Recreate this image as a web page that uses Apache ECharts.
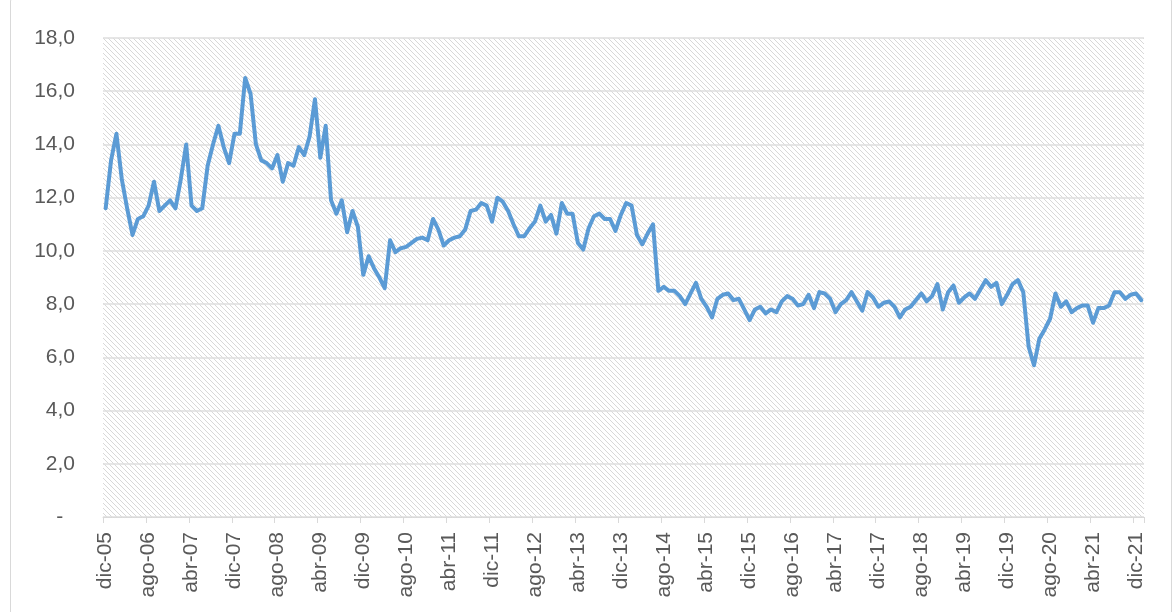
<!DOCTYPE html>
<html>
<head>
<meta charset="utf-8">
<script src="https://cdn.jsdelivr.net/npm/echarts@6/dist/echarts.min.js"></script>
<style>
html,body{margin:0;padding:0;background:#fff;}
#chart{width:1173px;height:612px;}
</style>
</head>
<body>
<div id="chart"></div>
<script>
// Month names (Spanish abbreviations) and start of the series
var monthNames = ['ene','feb','mar','abr','may','jun','jul','ago','sep','oct','nov','dic'];
var startMonth = 11; // dic
var startYear = 2005;

// Monthly values, dic-05 .. ene-22
var values = [
  11.6, 13.4, 14.4, 12.7, 11.6, 10.6, 11.2, 11.3, 11.7, 12.6,
  11.5, 11.7, 11.9, 11.6, 12.7, 14.0, 11.7, 11.5, 11.6, 13.2,
  14.0, 14.7, 13.9, 13.3, 14.4, 14.4, 16.5, 15.9, 14.0, 13.4,
  13.3, 13.1, 13.6, 12.6, 13.3, 13.2, 13.9, 13.6, 14.3, 15.7,
  13.5, 14.7, 11.9, 11.4, 11.9, 10.7, 11.5, 10.9, 9.1, 9.8,
  9.35, 9.0, 8.6, 10.4, 9.95, 10.1, 10.15, 10.3, 10.45, 10.5,
  10.4, 11.2, 10.8, 10.2, 10.4, 10.5, 10.55, 10.8, 11.5, 11.55,
  11.8, 11.7, 11.1, 12.0, 11.85, 11.5, 11.0, 10.55, 10.55, 10.85,
  11.1, 11.7, 11.1, 11.35, 10.65, 11.8, 11.4, 11.4, 10.3, 10.05,
  10.85, 11.3, 11.4, 11.2, 11.2, 10.75, 11.35, 11.8, 11.7, 10.6,
  10.25, 10.65, 11.0, 8.5, 8.65, 8.5, 8.5, 8.3, 8.0, 8.4,
  8.8, 8.2, 7.9, 7.5, 8.2, 8.35, 8.4, 8.15, 8.2, 7.8,
  7.4, 7.8, 7.9, 7.65, 7.8, 7.7, 8.1, 8.3, 8.2, 7.95,
  8.0, 8.35, 7.85, 8.45, 8.4, 8.2, 7.7, 8.0, 8.15, 8.45,
  8.1, 7.75, 8.45, 8.25, 7.9, 8.05, 8.1, 7.9, 7.5, 7.8,
  7.9, 8.15, 8.4, 8.1, 8.3, 8.75, 7.8, 8.45, 8.7, 8.05,
  8.25, 8.4, 8.2, 8.55, 8.9, 8.65, 8.8, 8.0, 8.35, 8.75,
  8.9, 8.45, 6.4, 5.7, 6.7, 7.05, 7.45, 8.4, 7.9, 8.1,
  7.7, 7.85, 7.95, 7.95, 7.3, 7.85, 7.85, 7.95, 8.45, 8.45,
  8.2, 8.35, 8.4, 8.15
];

// Category labels built from the month names
var categories = [];
for (var i = 0; i < values.length; i++) {
  var m = (startMonth + i) % 12;
  var y = startYear + Math.floor((startMonth + i) / 12);
  categories.push(monthNames[m] + '-' + String(y % 100).padStart(2, '0'));
}

// Y axis ticks
var yMin = 0, yMax = 18, yStep = 2;

// Hatch pattern for plot area
var pc = document.createElement('canvas');
pc.width = 5; pc.height = 5;
var ctx = pc.getContext('2d');
ctx.fillStyle = '#ffffff';
ctx.fillRect(0, 0, 5, 5);
ctx.strokeStyle = '#d8d8d8';
ctx.lineWidth = 1;
ctx.beginPath();
ctx.moveTo(-1, -1); ctx.lineTo(6, 6);
ctx.moveTo(-1, 4); ctx.lineTo(1, 6);
ctx.moveTo(4, -1); ctx.lineTo(6, 1);
ctx.stroke();

var chart = echarts.init(document.getElementById('chart'), null, {renderer: 'canvas'});
var font = '"Liberation Sans", Arial, sans-serif';
chart.setOption({
  animation: false,
  backgroundColor: '#ffffff',
  graphic: [{
    type: 'rect',
    shape: {x: 10.5, y: -3, width: 1161, height: 620, r: 4},
    style: {fill: 'none', stroke: '#d9d9d9', lineWidth: 1},
    silent: true
  }],
  grid: {
    left: 103, right: 29, top: 38, bottom: 95,
    show: true,
    backgroundColor: {image: pc, repeat: 'repeat'},
    borderWidth: 0
  },
  xAxis: {
    type: 'category',
    data: categories,
    boundaryGap: true,
    axisLine: {lineStyle: {color: '#d9d9d9', width: 1}},
    axisTick: {show: true, interval: 7, length: 6, lineStyle: {color: '#d9d9d9'}},
    axisLabel: {
      interval: 7, rotate: 90, margin: 15,
      color: '#595959', fontSize: 21, fontFamily: font
    },
    splitLine: {show: false}
  },
  yAxis: {
    type: 'value',
    min: yMin, max: yMax, interval: yStep,
    axisLine: {show: false},
    axisTick: {show: false},
    axisLabel: {
      margin: 28, color: '#595959', fontSize: 21, fontFamily: font,
      formatter: function (v) { return v === 0 ? '-  ' : v.toFixed(1).replace('.', ','); }
    },
    splitLine: {lineStyle: {color: '#dedede', width: 1.5}}
  },
  series: [{
    type: 'line',
    data: values,
    symbol: 'none',
    smooth: false,
    lineStyle: {color: '#5b9bd5', width: 4, join: 'round', cap: 'round'}
  }]
});
</script>
</body>
</html>
